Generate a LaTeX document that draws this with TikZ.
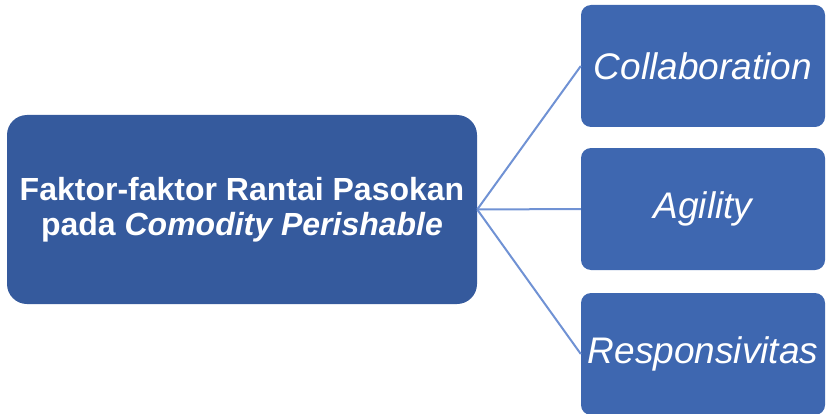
\documentclass[tikz,border=0pt]{standalone}
\usepackage{fontspec}
\setmainfont{Liberation Sans}
\definecolor{mainblue}{HTML}{355A9D}
\definecolor{childblue}{HTML}{3E67B0}
\definecolor{linkblue}{HTML}{7092D4}
\begin{document}
\begin{tikzpicture}[x=1pt,y=1pt,
  mainbox/.style={fill=mainblue, rounded corners=20pt, minimum width=470pt, minimum height=189pt,
    inner sep=0pt, align=center, text=white, font=\fontsize{32}{35}\selectfont\bfseries},
  childbox/.style={fill=childblue, rounded corners=10pt, minimum width=244pt, minimum height=122pt,
    inner sep=0pt, text=white, font=\fontsize{37}{40}\selectfont\itshape},
  link/.style={draw=linkblue, line width=2pt}]
\clip (0,0) rectangle (826,413);
\node[mainbox] (main) at (242,203.5) {Faktor-faktor Rantai Pasokan\\pada \textit{Comodity Perishable}};
\node[childbox] (c1) at (703,347) {Collaboration};
\node[childbox] (c2) at (703,204) {Agility};
\node[childbox] (c3) at (703,59) {Responsivitas};
\draw[link] (main.east) -- (c1.west);
\draw[link] (main.east) -- (c2.west);
\draw[link] (main.east) -- (c3.west);
\end{tikzpicture}
\end{document}
